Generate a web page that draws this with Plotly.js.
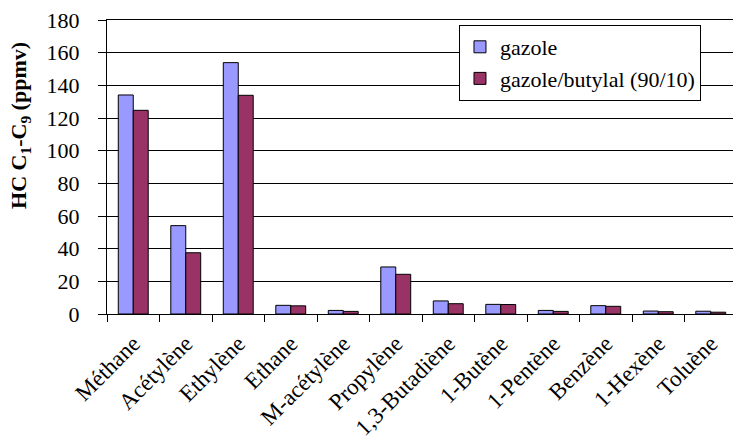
<!DOCTYPE html>
<html>
<head>
<meta charset="utf-8">
<script src="https://cdn.plot.ly/plotly-3.0.1.min.js"></script>
<style>
html,body{margin:0;padding:0;overflow:hidden;background:#fff;}
#chart{width:740px;height:448px;}
</style>
</head>
<body>
<div id="chart"></div>
<script>
var categories = ["Méthane","Acétylène","Ethylène","Ethane","M-acétylène","Propylène","1,3-Butadiène","1-Butène","1-Pentène","Benzène","1-Hexène","Toluène"];
var gazole = [134.1, 54.1, 153.9, 5.3, 2.2, 28.8, 8.0, 5.9, 2.2, 5.1, 1.8, 1.7];
var gazoleButylal = [124.7, 37.5, 133.9, 5.0, 1.6, 24.3, 6.3, 5.8, 1.6, 4.7, 1.4, 1.1];
var seriesNames = ["gazole", "gazole/butylal (90/10)"];
var yTicks = [0,20,40,60,80,100,120,140,160,180];

var serif = "Liberation Serif";

var traces = [
  {type:"bar", name:seriesNames[0], x:categories, y:gazole,
   marker:{color:"#9999FF", line:{color:"#000", width:1}}},
  {type:"bar", name:seriesNames[1], x:categories, y:gazoleButylal,
   marker:{color:"#993366", line:{color:"#000", width:1}}}
];

var layout = {
  width:740, height:448,
  margin:{l:107, r:3, t:20, b:134},
  paper_bgcolor:"#fff", plot_bgcolor:"#fff",
  font:{family:serif, color:"#000", size:20},
  barmode:"group", bargap:0.43, bargroupgap:0,
  showlegend:true,
  legend:{x:0.5587, y:0.983, xanchor:"left", yanchor:"top",
    bgcolor:"#fff", bordercolor:"#000", borderwidth:1,
    font:{family:serif, size:22, color:"#000"}, tracegroupgap:0},
  xaxis:{type:"category", tickangle:-45, tickfont:{family:serif, size:23, color:"#000"},
    showline:true, linecolor:"#000", linewidth:1, mirror:true,
    ticks:"outside", ticklen:7, tickcolor:"#000", tickson:"boundaries",
    ticklabelstandoff:6,
    showgrid:false, zeroline:false, fixedrange:true},
  yaxis:{range:[0,180], tickvals:yTicks, ticktext:yTicks.map(String),
    tickfont:{family:serif, size:22, color:"#000"},
    showline:true, linecolor:"#000", linewidth:1, mirror:true,
    ticks:"outside", ticklen:8, tickcolor:"#000", ticklabelstandoff:14,
    showgrid:true, gridcolor:"#000", gridwidth:1, zeroline:false, fixedrange:true},
  annotations:[{
    text:"<b>HC C<sub>1</sub>-C<sub>9</sub> (ppmv)</b>",
    xref:"paper", yref:"paper", x:-0.138, y:0.64,
    xanchor:"center", yanchor:"middle", textangle:-90, showarrow:false,
    font:{family:serif, size:22, color:"#000"}
  }]
};

Plotly.newPlot("chart", traces, layout, {displayModeBar:false, staticPlot:true});
</script>
</body>
</html>
